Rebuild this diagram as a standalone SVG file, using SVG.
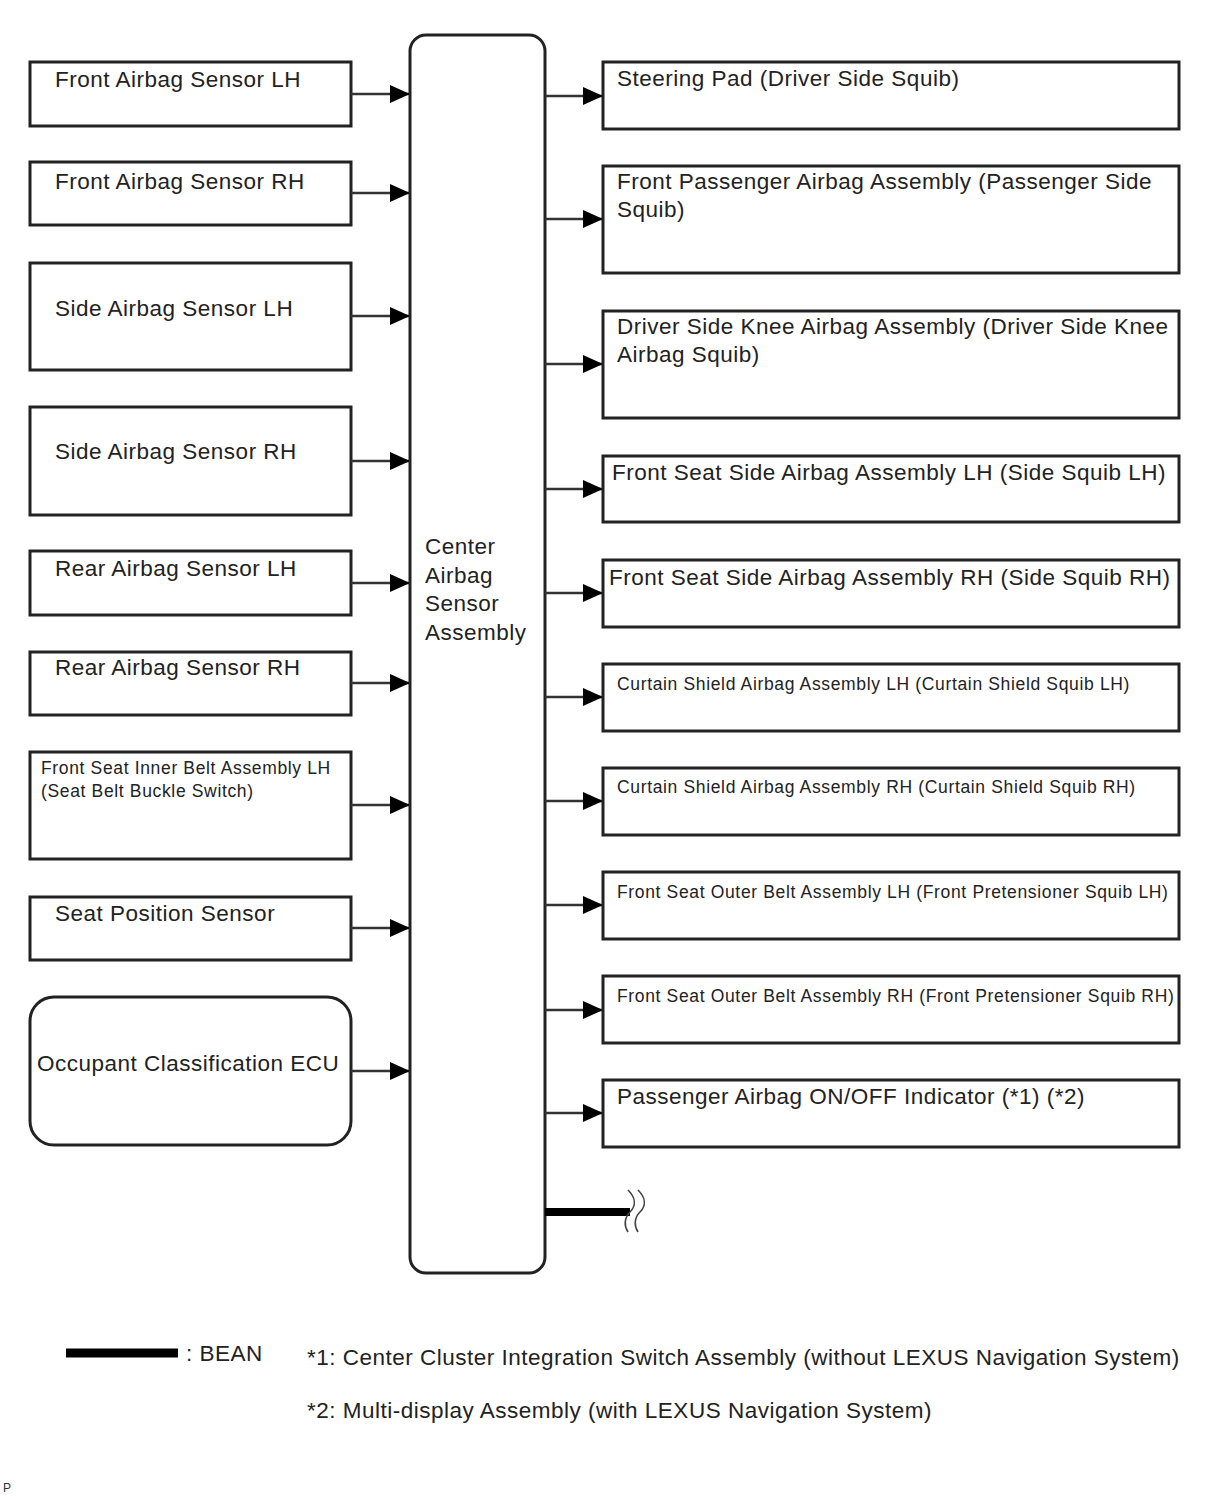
<svg xmlns="http://www.w3.org/2000/svg" width="1210" height="1498" viewBox="0 0 1210 1498">
<defs>
<style>
.box{fill:#fff;stroke:#222;stroke-width:3}
.t{font-family:"Liberation Sans",Arial,sans-serif;font-size:22.5px;letter-spacing:0.5px;fill:#222}
.s{font-family:"Liberation Sans",Arial,sans-serif;font-size:17.5px;letter-spacing:0.65px;fill:#222}
.c{stroke:#333;stroke-width:2.5;fill:none}
.w{stroke:#444;stroke-width:1.6;fill:none}
</style>
<marker id="ah" viewBox="0 0 20 18" refX="20" refY="9" markerWidth="20" markerHeight="18" markerUnits="userSpaceOnUse" orient="auto">
<path d="M0,0 L20,9 L0,18 Z" fill="#000"/>
</marker>
</defs>
<rect width="1210" height="1498" fill="#fff"/>

<g id="center">
<rect class="box" x="410" y="35" width="135" height="1238" rx="16"/>
<text class="t" x="425" y="554">Center</text>
<text class="t" x="425" y="583">Airbag</text>
<text class="t" x="425" y="611">Sensor</text>
<text class="t" x="425" y="640">Assembly</text>
</g>

<g id="l1"><rect class="box" x="30" y="62" width="321" height="64"/><text class="t" x="55" y="87">Front Airbag Sensor LH</text></g>
<g id="l2"><rect class="box" x="30" y="162" width="321" height="63"/><text class="t" x="55" y="189">Front Airbag Sensor RH</text></g>
<g id="l3"><rect class="box" x="30" y="263" width="321" height="107"/><text class="t" x="55" y="316">Side Airbag Sensor LH</text></g>
<g id="l4"><rect class="box" x="30" y="407" width="321" height="108"/><text class="t" x="55" y="459">Side Airbag Sensor RH</text></g>
<g id="l5"><rect class="box" x="30" y="551" width="321" height="64"/><text class="t" x="55" y="576">Rear Airbag Sensor LH</text></g>
<g id="l6"><rect class="box" x="30" y="652" width="321" height="63"/><text class="t" x="55" y="675">Rear Airbag Sensor RH</text></g>
<g id="l7"><rect class="box" x="30" y="752" width="321" height="107"/><text class="s" x="41" y="774">Front Seat Inner Belt Assembly LH</text><text class="s" x="41" y="797">(Seat Belt Buckle Switch)</text></g>
<g id="l8"><rect class="box" x="30" y="897" width="321" height="63"/><text class="t" x="55" y="921">Seat Position Sensor</text></g>
<g id="l9"><rect class="box" x="30" y="997" width="321" height="148" rx="24"/><text class="t" x="37" y="1071">Occupant Classification ECU</text></g>

<g id="r1"><rect class="box" x="603" y="62" width="576" height="67"/><text class="t" x="617" y="86">Steering Pad (Driver Side Squib)</text></g>
<g id="r2"><rect class="box" x="603" y="166" width="576" height="107"/><text class="t" x="617" y="189">Front Passenger Airbag Assembly (Passenger Side</text><text class="t" x="617" y="217">Squib)</text></g>
<g id="r3"><rect class="box" x="603" y="311" width="576" height="107"/><text class="t" x="617" y="334">Driver Side Knee Airbag Assembly (Driver Side Knee</text><text class="t" x="617" y="362">Airbag Squib)</text></g>
<g id="r4"><rect class="box" x="603" y="456" width="576" height="66"/><text class="t" x="612" y="480">Front Seat Side Airbag Assembly LH (Side Squib LH)</text></g>
<g id="r5"><rect class="box" x="603" y="560" width="576" height="67"/><text class="t" x="609" y="585">Front Seat Side Airbag Assembly RH (Side Squib RH)</text></g>
<g id="r6"><rect class="box" x="603" y="664" width="576" height="67"/><text class="s" x="617" y="690">Curtain Shield Airbag Assembly LH (Curtain Shield Squib LH)</text></g>
<g id="r7"><rect class="box" x="603" y="768" width="576" height="67"/><text class="s" x="617" y="793">Curtain Shield Airbag Assembly RH (Curtain Shield Squib RH)</text></g>
<g id="r8"><rect class="box" x="603" y="872" width="576" height="67"/><text class="s" x="617" y="898">Front Seat Outer Belt Assembly LH (Front Pretensioner Squib LH)</text></g>
<g id="r9"><rect class="box" x="603" y="976" width="576" height="67"/><text class="s" x="617" y="1002">Front Seat Outer Belt Assembly RH (Front Pretensioner Squib RH)</text></g>
<g id="r10"><rect class="box" x="603" y="1080" width="576" height="67"/><text class="t" x="617" y="1104">Passenger Airbag ON/OFF Indicator (*1) (*2)</text></g>

<g id="connectors">
<line class="c" x1="351" y1="94" x2="410" y2="94" marker-end="url(#ah)"/>
<line class="c" x1="351" y1="193" x2="410" y2="193" marker-end="url(#ah)"/>
<line class="c" x1="351" y1="316" x2="410" y2="316" marker-end="url(#ah)"/>
<line class="c" x1="351" y1="461" x2="410" y2="461" marker-end="url(#ah)"/>
<line class="c" x1="351" y1="583" x2="410" y2="583" marker-end="url(#ah)"/>
<line class="c" x1="351" y1="683" x2="410" y2="683" marker-end="url(#ah)"/>
<line class="c" x1="351" y1="805" x2="410" y2="805" marker-end="url(#ah)"/>
<line class="c" x1="351" y1="928" x2="410" y2="928" marker-end="url(#ah)"/>
<line class="c" x1="351" y1="1071" x2="410" y2="1071" marker-end="url(#ah)"/>

<line class="c" x1="545" y1="96" x2="603" y2="96" marker-end="url(#ah)"/>
<line class="c" x1="545" y1="219" x2="603" y2="219" marker-end="url(#ah)"/>
<line class="c" x1="545" y1="364" x2="603" y2="364" marker-end="url(#ah)"/>
<line class="c" x1="545" y1="489" x2="603" y2="489" marker-end="url(#ah)"/>
<line class="c" x1="545" y1="593" x2="603" y2="593" marker-end="url(#ah)"/>
<line class="c" x1="545" y1="697" x2="603" y2="697" marker-end="url(#ah)"/>
<line class="c" x1="545" y1="801" x2="603" y2="801" marker-end="url(#ah)"/>
<line class="c" x1="545" y1="905" x2="603" y2="905" marker-end="url(#ah)"/>
<line class="c" x1="545" y1="1010" x2="603" y2="1010" marker-end="url(#ah)"/>
<line class="c" x1="545" y1="1113" x2="603" y2="1113" marker-end="url(#ah)"/>

<line x1="545" y1="1212" x2="630" y2="1212" stroke="#000" stroke-width="8"/>
<path class="w" d="M628,1190 C636,1198 636,1206 630,1212 C624,1218 624,1226 628,1232"/>
<path class="w" d="M638,1190 C646,1198 646,1206 640,1212 C634,1218 634,1226 638,1232"/>
</g>

<g id="legend">
<line x1="66" y1="1353" x2="178" y2="1353" stroke="#000" stroke-width="9"/>
<text class="t" x="186" y="1361">: BEAN</text>
<text class="t" x="307" y="1365">*1: Center Cluster Integration Switch Assembly (without LEXUS Navigation System)</text>
<text class="t" x="307" y="1418">*2: Multi-display Assembly (with LEXUS Navigation System)</text>
<text x="3" y="1492" font-family="Liberation Sans,Arial,sans-serif" font-size="12" fill="#333">P</text>
</g>
</svg>
